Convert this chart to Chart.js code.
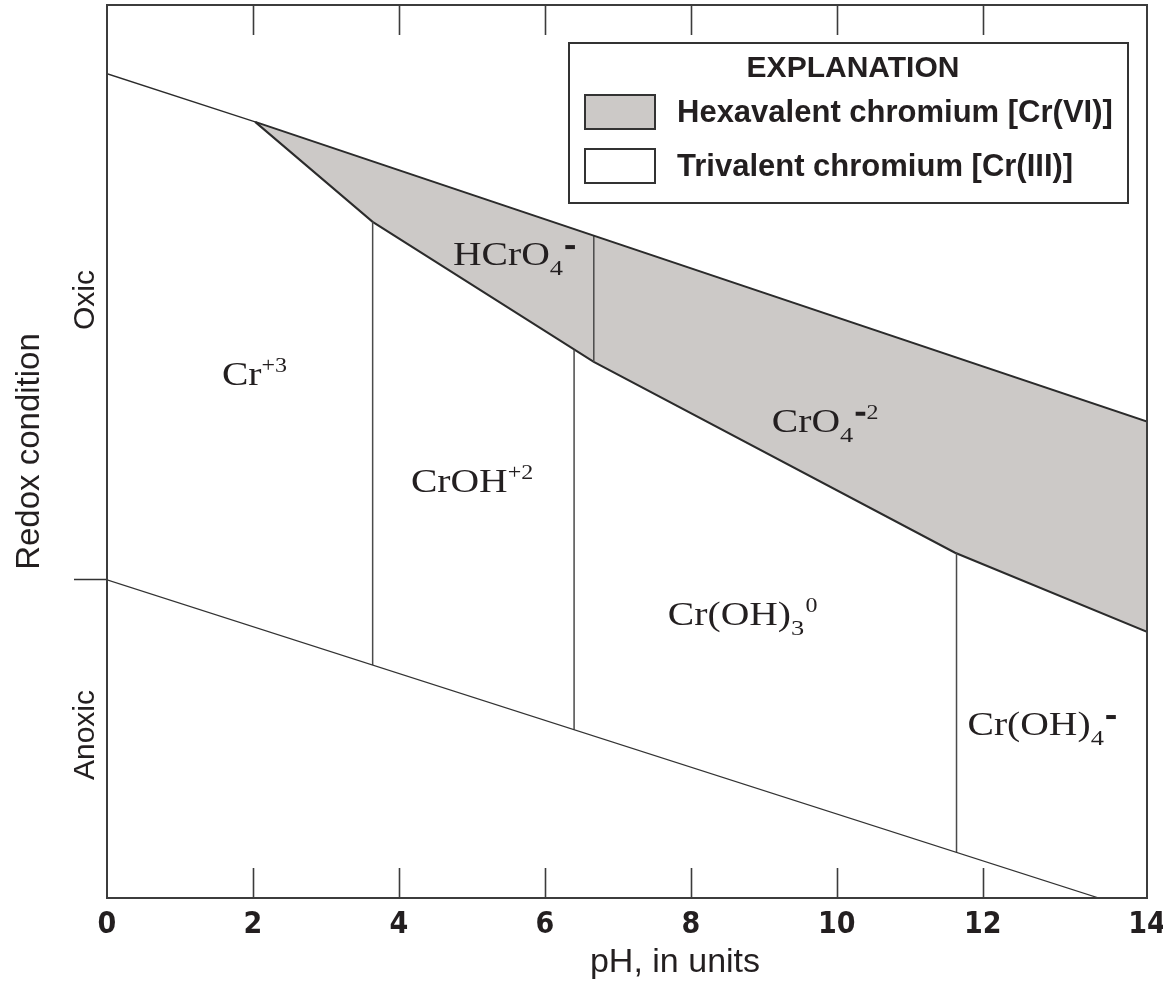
<!DOCTYPE html>
<html>
<head>
<meta charset="utf-8">
<title>Chromium species, pH and redox condition</title>
<script src="https://cdn.jsdelivr.net/npm/chart.js@4/dist/chart.umd.min.js"></script>
<style>
  html, body { margin: 0; padding: 0; background: #fff; }
</style>
</head>
<body>
<canvas id="diagram" width="1163" height="982"></canvas>
<script>
// Axis limits and ticks (pH along x, redox potential in volts along y)
const phMin = 0;
const phMax = 14.25;
const phTickValues = [0, 2, 4, 6, 8, 10, 12, 14.25];
const phTickLabels = ['0', '2', '4', '6', '8', '10', '12', '14'];
const ehMin = -0.773;
const ehMax = 1.397;
const ehTicks = [0];

// Upper limit of water stability (top edge of the Cr(VI) field from pH 2 on)
const oxicLimitPH = [0, 2.03, 14.25];
const oxicLimitEh = [1.23, 1.113, 0.385];

// Lower edge of the Cr(VI) field
const cr6LowerPH = [2.03, 3.64, 6.67, 11.62, 14.25];
const cr6LowerEh = [1.113, 0.870, 0.530, 0.066, -0.126];

// Lower limit of water stability
const anoxicLimitPH = [0, 13.59];
const anoxicLimitEh = [0, -0.773];

// Vertical boundaries between species
const boundaryPH = [3.64, 6.40, 6.67, 11.64];
const boundaryTopEh = [0.870, 0.559, 0.836, 0.066];
const boundaryBottomEh = [-0.207, -0.364, 0.530, -0.662];

// Species names (name, subscript, superscript) and where they sit
const speciesName = ['Cr', 'HCrO', 'CrOH', 'CrO', 'Cr(OH)', 'Cr(OH)'];
const speciesSub = ['', '4', '', '4', '3', '4'];
const speciesSup = ['+3', '-', '+2', '-2', '0', '-'];
const speciesPH = [1.575, 4.74, 4.164, 9.11, 7.685, 11.79];
const speciesEh = [0.474, 0.765, 0.214, 0.360, -0.109, -0.377];

// Redox zones written along the y axis
const redoxZones = ['Oxic', 'Anoxic'];
const redoxZoneEh = [0.68, -0.377];

const legendTitle = 'EXPLANATION';
const legendLabels = ['Hexavalent chromium [Cr(VI)]', 'Trivalent chromium [Cr(III)]'];

const ink = '#231f20';
const lineDark = '#2b2b2b';
const cr6Fill = '#ccc9c7';
const sans = '"Liberation Sans", Arial, sans-serif';
const narrow = '"Liberation Sans Narrow", "DejaVu Sans Condensed", "Liberation Sans", sans-serif';
const serif = '"Liberation Serif", "Times New Roman", serif';

function pts(xs, ys) {
  return xs.map((x, i) => ({ x: x, y: ys[i] }));
}

const boundaryDatasets = boundaryPH.map((ph, i) => ({
  data: pts([ph, ph], [boundaryTopEh[i], boundaryBottomEh[i]]),
  showLine: true,
  pointRadius: 0,
  borderColor: '#4a4a4a',
  borderWidth: 1.5,
  fill: false,
  order: 2
}));

// Chemical formula with subscript and superscript, slightly widened
function drawFormula(ctx, name, sub, sup, x, y) {
  ctx.save();
  ctx.translate(x, y);
  ctx.scale(1.2, 1);
  ctx.fillStyle = ink;
  ctx.textAlign = 'left';
  ctx.textBaseline = 'alphabetic';
  ctx.font = '33px ' + serif;
  ctx.fillText(name, 0, 0);
  let cx = ctx.measureText(name).width;
  if (sub) {
    ctx.font = '22px ' + serif;
    ctx.fillText(sub, cx, 10);
    cx += ctx.measureText(sub).width + 1;
  }
  if (sup) {
    ctx.font = '20px ' + serif;
    for (const ch of sup) {
      if (ch === '-') {
        ctx.fillRect(cx + 1, -20, 8, 4);
        cx += 10;
      } else {
        ctx.fillText(ch, cx, -13);
        cx += ctx.measureText(ch).width;
      }
    }
  }
  ctx.restore();
}

const diagramDecor = {
  id: 'diagramDecor',
  beforeDraw(chart) {
    const ctx = chart.ctx;
    ctx.save();
    ctx.fillStyle = '#fff';
    ctx.fillRect(0, 0, chart.width, chart.height);
    ctx.restore();
  },
  afterDatasetsDraw(chart) {
    const ctx = chart.ctx;
    const xs = chart.scales.x;
    const ys = chart.scales.y;
    const a = chart.chartArea;
    ctx.save();

    // species labels
    speciesName.forEach((n, i) => {
      drawFormula(ctx, n, speciesSub[i], speciesSup[i],
        xs.getPixelForValue(speciesPH[i]), ys.getPixelForValue(speciesEh[i]));
    });

    // frame
    ctx.strokeStyle = '#3c3c3c';
    ctx.lineWidth = 2;
    ctx.strokeRect(a.left, a.top, a.right - a.left, a.bottom - a.top);

    // inward ticks on top and bottom edges
    ctx.lineWidth = 1.6;
    phTickValues.slice(1, -1).forEach(v => {
      const px = Math.round(xs.getPixelForValue(v)) + 0.5;
      ctx.beginPath();
      ctx.moveTo(px, a.top);
      ctx.lineTo(px, a.top + 30);
      ctx.moveTo(px, a.bottom);
      ctx.lineTo(px, a.bottom - 30);
      ctx.stroke();
    });

    // x axis title
    ctx.fillStyle = ink;
    ctx.font = '34px ' + sans;
    ctx.textAlign = 'center';
    ctx.textBaseline = 'alphabetic';
    ctx.fillText('pH, in units', 675, 972);

    // oxic / anoxic labels
    ctx.font = '30px ' + sans;
    ctx.textBaseline = 'middle';
    redoxZones.forEach((z, i) => {
      ctx.save();
      ctx.translate(86, ys.getPixelForValue(redoxZoneEh[i]));
      ctx.rotate(-Math.PI / 2);
      ctx.fillText(z, 0, 0);
      ctx.restore();
    });

    // explanation box
    ctx.fillStyle = '#fff';
    ctx.fillRect(569, 43, 559, 160);
    ctx.strokeStyle = '#333';
    ctx.lineWidth = 2;
    ctx.strokeRect(569, 43, 559, 160);
    ctx.fillStyle = ink;
    ctx.font = 'bold 30px ' + sans;
    ctx.textAlign = 'center';
    ctx.textBaseline = 'alphabetic';
    ctx.fillText(legendTitle, 853, 77);
    const swatchFill = [cr6Fill, '#fff'];
    legendLabels.forEach((t, i) => {
      const top = 95 + i * 54;
      ctx.fillStyle = swatchFill[i];
      ctx.fillRect(585, top, 70, 34);
      ctx.strokeStyle = '#333';
      ctx.lineWidth = 2;
      ctx.strokeRect(585, top, 70, 34);
      ctx.fillStyle = ink;
      ctx.font = 'bold 31px ' + sans;
      ctx.textAlign = 'left';
      ctx.fillText(t, 677, top + 27);
    });
    ctx.restore();
  }
};

const chart = new Chart(document.getElementById('diagram'), {
  type: 'scatter',
  data: {
    datasets: [
      {
        data: pts(oxicLimitPH, oxicLimitEh),
        showLine: true,
        pointRadius: 0,
        borderColor: lineDark,
        borderWidth: 2,
        segment: { borderWidth: c => (c.p0DataIndex === 0 ? 1.3 : 2) },
        fill: false,
        order: 0
      },
      {
        data: pts(cr6LowerPH, cr6LowerEh),
        showLine: true,
        pointRadius: 0,
        borderColor: lineDark,
        borderWidth: 2,
        backgroundColor: cr6Fill,
        fill: '-1',
        order: 5
      },
      {
        data: pts(anoxicLimitPH, anoxicLimitEh),
        showLine: true,
        pointRadius: 0,
        borderColor: '#333',
        borderWidth: 1.3,
        fill: false,
        order: 1
      },
      ...boundaryDatasets
    ]
  },
  options: {
    responsive: false,
    animation: false,
    events: [],
    layout: { padding: { top: 5, right: 16, left: 0, bottom: 0 } },
    plugins: {
      legend: { display: false },
      tooltip: { enabled: false }
    },
    scales: {
      x: {
        type: 'linear',
        min: phMin,
        max: phMax,
        afterBuildTicks: s => { s.ticks = phTickValues.map(v => ({ value: v })); },
        afterFit: s => { s.height = 84; s.paddingLeft = 0; s.paddingRight = 0; },
        grid: { display: false, drawTicks: false },
        border: { display: false },
        ticks: {
          callback: (v, i) => phTickLabels[i],
          autoSkip: false,
          maxRotation: 0,
          padding: 9,
          color: ink,
          font: { family: narrow, size: 30, weight: 'bold' }
        }
      },
      y: {
        type: 'linear',
        min: ehMin,
        max: ehMax,
        afterBuildTicks: s => { s.ticks = ehTicks.map(v => ({ value: v })); },
        afterFit: s => { s.width = 107; s.paddingTop = 0; s.paddingBottom = 0; },
        grid: { drawOnChartArea: false, drawTicks: true, tickLength: 33, tickColor: '#333', tickWidth: 1.6 },
        border: { display: false },
        ticks: { callback: () => '', padding: 0 },
        title: {
          display: true,
          text: 'Redox condition',
          color: ink,
          font: { family: sans, size: 33 },
          padding: { top: 10, bottom: 0 }
        }
      }
    }
  },
  plugins: [diagramDecor]
});
</script>
</body>
</html>
